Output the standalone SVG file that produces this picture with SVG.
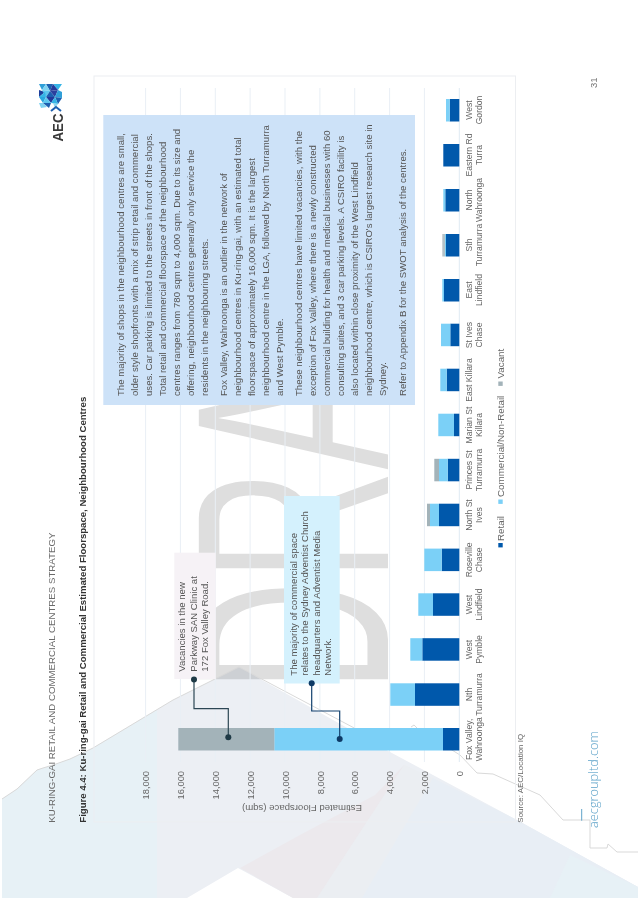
<svg xmlns="http://www.w3.org/2000/svg" width="638" height="900" viewBox="0 0 638 900">
<style>
text{font-family:"Liberation Sans",Arial,sans-serif}
.p{font-size:9.6px;fill:#555}
.t{font-size:9.3px;fill:#666;text-anchor:end}
.c{font-size:8.6px;fill:#666;text-anchor:middle}
.l{font-size:9.8px;fill:#666}
.g{stroke:#e9eff5;stroke-width:1;fill:none}
.s{stroke:#d9d9d9;stroke-width:1;fill:none}
.r{fill:#0058ab}.m{fill:#7bd0f7}.v{fill:#a3b3b9}
.n{font-size:9.55px;fill:#555}
</style>
<rect width="638" height="900" fill="#fff"/>
<g id="background">
<text transform="translate(388 692) rotate(-90) scale(0.56 1)" font-size="275" fill="#dedede">DRA</text>
<g style="mix-blend-mode:multiply">
<polygon points="2,799 17,789 37,770 43,768 53,765 70,759 93,748 173,700 239,667 390,752 517,820 638,887 638,898 293,898 238,868 187,898 2,898" fill="#eceff4"/>
</g>
<polygon points="2,799 17,789 37,770 43,768 53,765 70,759 93,748 157,710 157,898 2,898" fill="#e7f1f6"/>
<polygon points="240,868 300,835 375,795 404,765 418,772 362,898 293,898" fill="#ece9ed"/>
<polygon points="404,765 433,778 362,898 317,898" fill="#ebeef2"/>
<polygon points="433,778 517,820 638,887 638,898 362,898" fill="#e8eef5"/>
<polygon points="570,855 638,887 638,898 550,898" fill="#e7f1f6"/>
<polyline class="s" points="2,799 17,789 37,770 43,768 53,765 70,759 93,748 173,700 239,667 358,730"/>
<polyline class="s" points="411,727 414,725 418,729 460,755 477,773 493,774 540,795 563,820 590,820 590,848 607,848 608,844 617,852 638,852"/>
</g>
<g id="header">
<text transform="translate(54.5 822.7) rotate(-90)" font-size="9.7" fill="#6b6b6b">KU-RING-GAI RETAIL AND COMMERCIAL CENTRES STRATEGY</text>
<text transform="translate(85.5 822.7) rotate(-90)" font-size="9.6" font-weight="bold" fill="#333">Figure 4.4: Ku-ring-gai Retail and Commercial Estimated Floorspace, Neighbourhood Centres</text>
</g>
<g id="logo">
<polygon points="39,84 46,84 42,90" fill="#2f9fd8"/><polygon points="46,84 53,84 50,91" fill="#1c5fb0"/><polygon points="53,84 62,84 58,90" fill="#35b4e6"/><polygon points="42,90 46,84 50,91" fill="#7fd3f2"/><polygon points="50,91 53,84 58,90" fill="#23399a"/>
<polygon points="39,90 45,92 39,97" fill="#1d3f9c"/><polygon points="42,90 50,91 46,97" fill="#5cc6ee"/><polygon points="50,91 58,90 55,97" fill="#2a3f9e"/><polygon points="58,90 62,92 62,98 55,97" fill="#2f9fd8"/><polygon points="45,92 46,97 39,97" fill="#35b4e6"/><polygon points="50,91 46,97 55,97" fill="#1c5fb0"/>
<polygon points="39,97 46,97 43,103" fill="#29a6de"/><polygon points="46,97 55,97 51,103" fill="#23399a"/><polygon points="55,97 62,98 58,104" fill="#1c5fb0"/><polygon points="46,97 43,103 51,103" fill="#5cc6ee"/><polygon points="55,97 51,103 58,104" fill="#35b4e6"/>
<polygon points="39,103 43,103 47,107 41,108" fill="#7fd3f2"/><polygon points="43,103 51,103 49,108" fill="#1c5fb0"/><polygon points="53,103 58,104 55,108" fill="#8fd6f0"/>
<polyline points="51,111 56,107 61,111" fill="none" stroke="#1d5fb0" stroke-width="2"/>
<text transform="translate(63 141.5) rotate(-90)" font-size="15" font-weight="bold" fill="#3a3a3a" textLength="28" lengthAdjust="spacingAndGlyphs">AEC</text>
</g>
<g id="chart-frame">
<rect x="94" y="76" width="421.5" height="746" fill="none" stroke="#eceef1"/>
<g class="g">
<line x1="145.6" y1="88" x2="145.6" y2="762"/><line x1="180.4" y1="88" x2="180.4" y2="762"/><line x1="215.3" y1="88" x2="215.3" y2="762"/><line x1="250.1" y1="88" x2="250.1" y2="762"/><line x1="285" y1="88" x2="285" y2="762"/><line x1="319.9" y1="88" x2="319.9" y2="762"/><line x1="354.7" y1="88" x2="354.7" y2="762"/><line x1="389.6" y1="88" x2="389.6" y2="762"/><line x1="424.4" y1="88" x2="424.4" y2="762"/><line x1="459.3" y1="88" x2="459.3" y2="762" stroke="#dfeaf3"/>
</g>
</g>
<g id="axis-labels">
<text class="t" transform="translate(149 771) rotate(-90)">18,000</text>
<text class="t" transform="translate(184 771) rotate(-90)">16,000</text>
<text class="t" transform="translate(219 771) rotate(-90)">14,000</text>
<text class="t" transform="translate(253.5 771) rotate(-90)">12,000</text>
<text class="t" transform="translate(288.5 771) rotate(-90)">10,000</text>
<text class="t" transform="translate(323.5 771) rotate(-90)">8,000</text>
<text class="t" transform="translate(358 771) rotate(-90)">6,000</text>
<text class="t" transform="translate(393 771) rotate(-90)">4,000</text>
<text class="t" transform="translate(428 771) rotate(-90)">2,000</text>
<text class="t" transform="translate(462.5 771) rotate(-90)">0</text>
<text transform="translate(362 804.5) rotate(180)" font-size="9.6" fill="#666">Estimated Floorspace (sqm)</text>
</g>
<g id="bars">
<g id="bar-fox-valley"><rect class="r" x="443" y="728" width="16.3" height="22.5"/><rect class="m" x="274.3" y="728" width="168.7" height="22.5"/><rect class="v" x="178.3" y="728" width="96" height="22.5"/></g>
<g id="bar-nth-turramurra"><rect class="r" x="415" y="683.3" width="44.3" height="22.5"/><rect class="m" x="390.3" y="683.3" width="24.7" height="22.5"/></g>
<g id="bar-west-pymble"><rect class="r" x="422.3" y="638.2" width="37" height="22.5"/><rect class="m" x="410.3" y="638.2" width="12" height="22.5"/></g>
<g id="bar-west-lindfield"><rect class="r" x="433" y="593.3" width="26.3" height="22.5"/><rect class="m" x="418.3" y="593.3" width="14.7" height="22.5"/></g>
<g id="bar-roseville-chase"><rect class="r" x="441.7" y="548.6" width="17.6" height="22.5"/><rect class="m" x="424.3" y="548.6" width="17.4" height="22.5"/></g>
<g id="bar-north-st-ives"><rect class="r" x="439" y="503.7" width="20.3" height="22.5"/><rect class="m" x="430" y="503.7" width="9" height="22.5"/><rect class="v" x="427" y="503.7" width="3" height="22.5"/></g>
<g id="bar-princes-st"><rect class="r" x="447.7" y="458.8" width="11.6" height="22.5"/><rect class="m" x="439" y="458.8" width="8.7" height="22.5"/><rect class="v" x="434.3" y="458.8" width="4.7" height="22.5"/></g>
<g id="bar-marian-st"><rect class="r" x="454" y="413.7" width="5.3" height="22.5"/><rect class="m" x="438.3" y="413.7" width="15.7" height="22.5"/></g>
<g id="bar-east-killara"><rect class="r" x="446.7" y="368.7" width="12.6" height="22.5"/><rect class="m" x="440.3" y="368.7" width="6.4" height="22.5"/></g>
<g id="bar-st-ives-chase"><rect class="r" x="450.3" y="323.7" width="9" height="22.5"/><rect class="m" x="441" y="323.7" width="9.3" height="22.5"/></g>
<g id="bar-east-lindfield"><rect class="r" x="444" y="279" width="15.3" height="22.5"/><rect class="m" x="442.3" y="279" width="1.7" height="22.5"/></g>
<g id="bar-sth-turramurra"><rect class="r" x="446" y="234" width="13.3" height="22.5"/><rect class="m" x="445" y="234" width="1" height="22.5"/><rect class="v" x="442.3" y="234" width="2.7" height="22.5" opacity=".8"/></g>
<g id="bar-north-wahroonga"><rect class="r" x="445.3" y="189" width="14" height="22.5"/><rect class="m" x="443.3" y="189" width="2" height="22.5"/></g>
<g id="bar-eastern-rd-turra"><rect class="r" x="443.3" y="144" width="16" height="22.5"/></g>
<g id="bar-west-gordon"><rect class="r" x="449.7" y="99" width="9.6" height="22.5"/><rect class="m" x="446" y="99" width="3.7" height="22.5"/></g>
</g>
<g id="category-labels">
<text class="c" transform="translate(472 739.3) rotate(-90)">Fox Valley,</text><text class="c" transform="translate(481.5 739.3) rotate(-90)">Wahroonga</text>
<text class="c" transform="translate(472 694.5) rotate(-90)">Nth</text><text class="c" transform="translate(481.5 694.5) rotate(-90)">Turramurra</text>
<text class="c" transform="translate(472 649.5) rotate(-90)">West</text><text class="c" transform="translate(481.5 649.5) rotate(-90)">Pymble</text>
<text class="c" transform="translate(472 604.5) rotate(-90)">West</text><text class="c" transform="translate(481.5 604.5) rotate(-90)">Lindfield</text>
<text class="c" transform="translate(472 559.8) rotate(-90)">Roseville</text><text class="c" transform="translate(481.5 559.8) rotate(-90)">Chase</text>
<text class="c" transform="translate(472 515) rotate(-90)">North St</text><text class="c" transform="translate(481.5 515) rotate(-90)">Ives</text>
<text class="c" transform="translate(472 470) rotate(-90)">Princes St</text><text class="c" transform="translate(481.5 470) rotate(-90)">Turramurra</text>
<text class="c" transform="translate(472 425) rotate(-90)">Marian St</text><text class="c" transform="translate(481.5 425) rotate(-90)">Killara</text>
<text class="c" transform="translate(472 380) rotate(-90)">East Killara</text>
<text class="c" transform="translate(472 335) rotate(-90)">St Ives</text><text class="c" transform="translate(481.5 335) rotate(-90)">Chase</text>
<text class="c" transform="translate(472 290) rotate(-90)">East</text><text class="c" transform="translate(481.5 290) rotate(-90)">Lindfield</text>
<text class="c" transform="translate(472 245) rotate(-90)">Sth</text><text class="c" transform="translate(481.5 245) rotate(-90)">Turramurra</text>
<text class="c" transform="translate(472 200) rotate(-90)">North</text><text class="c" transform="translate(481.5 200) rotate(-90)">Wahroonga</text>
<text class="c" transform="translate(472 155) rotate(-90)">Eastern Rd</text><text class="c" transform="translate(481.5 155) rotate(-90)">Turra</text>
<text class="c" transform="translate(472 110) rotate(-90)">West</text><text class="c" transform="translate(481.5 110) rotate(-90)">Gordon</text>
</g>
<g id="legend">
<rect class="r" x="498.3" y="543" width="4.4" height="4.4"/><text class="l" transform="translate(503.5 541) rotate(-90)">Retail</text>
<rect class="m" x="498.3" y="499.5" width="4.4" height="4.4"/><text class="l" transform="translate(503.5 497) rotate(-90)">Commercial/Non-Retail</text>
<rect class="v" x="498.3" y="381.5" width="4.4" height="4.4"/><text class="l" transform="translate(503.5 378.5) rotate(-90)">Vacant</text>
</g>
<g id="text-panel">
<rect x="103.3" y="115" width="311.7" height="290" fill="#cde2f8"/>
<text class="p" transform="translate(123.5 396) rotate(-90)">The majority of shops in the neighbourhood centres are small,</text>
<text class="p" transform="translate(137.5 396) rotate(-90)">older style shopfronts with a mix of strip retail and commercial</text>
<text class="p" transform="translate(151.5 396) rotate(-90)">uses. Car parking is limited to the streets in front of the shops.</text>
<text class="p" transform="translate(165.5 396) rotate(-90)">Total retail and commercial floorspace of the neighbourhood</text>
<text class="p" transform="translate(179.5 396) rotate(-90)">centres ranges from 780 sqm to 4,000 sqm. Due to its size and</text>
<text class="p" transform="translate(193.5 396) rotate(-90)">offering, neighbourhood centres generally only service the</text>
<text class="p" transform="translate(207.5 396) rotate(-90)">residents in the neighbouring streets.</text>
<text class="p" transform="translate(226.7 396) rotate(-90)">Fox Valley, Wahroonga is an outlier in the network of</text>
<text class="p" transform="translate(240.7 396) rotate(-90)">neighbourhood centres in Ku-ring-gai, with an estimated total</text>
<text class="p" transform="translate(254.7 396) rotate(-90)">floorspace of approximately 16,000 sqm. It is the largest</text>
<text class="p" transform="translate(268.7 396) rotate(-90)">neighbourhood centre in the LGA, followed by North Turramurra</text>
<text class="p" transform="translate(282.7 396) rotate(-90)">and West Pymble.</text>
<text class="p" transform="translate(301.7 396) rotate(-90)">These neighbourhood centres have limited vacancies, with the</text>
<text class="p" transform="translate(315.7 396) rotate(-90)">exception of Fox Valley, where there is a newly constructed</text>
<text class="p" transform="translate(329.7 396) rotate(-90)">commercial building for health and medical businesses with 60</text>
<text class="p" transform="translate(343.7 396) rotate(-90)">consulting suites, and 3 car parking levels. A CSIRO facility is</text>
<text class="p" transform="translate(357.7 396) rotate(-90)">also located within close proximity of the West Lindfield</text>
<text class="p" transform="translate(371.7 396) rotate(-90)">neighbourhood centre, which is CSIRO's largest research site in</text>
<text class="p" transform="translate(385.7 396) rotate(-90)">Sydney.</text>
<text class="p" transform="translate(405.5 396) rotate(-90)">Refer to Appendix B for the SWOT analysis of the centres.</text>
</g>
<g id="callout-vacancies">
<rect x="174.3" y="552.7" width="41.4" height="126.3" fill="#f6f2f6"/>
<text class="n" transform="translate(185 671.7) rotate(-90)">Vacancies in the new</text>
<text class="n" transform="translate(196.7 671.7) rotate(-90)">Parkway SAN Clinic at</text>
<text class="n" transform="translate(208.4 671.7) rotate(-90)">172 Fox Valley Road.</text>
</g>
<g id="callout-commercial">
<rect x="284" y="496" width="55.7" height="187.5" fill="#d4f1fd"/>
<text class="n" transform="translate(296.7 675.7) rotate(-90)">The majority of commercial space</text>
<text class="n" transform="translate(308.2 675.7) rotate(-90)">relates to the Sydney Adventist Church</text>
<text class="n" transform="translate(319.7 675.7) rotate(-90)">headquarters and Adventist Media</text>
<text class="n" transform="translate(331.2 675.7) rotate(-90)">Network.</text>
</g>
<g id="connectors" fill="none" stroke-width="1.2">
<polyline points="194,679.5 194,708.7 228.3,708.7 228.3,737.3" stroke="#2c4654"/>
<circle cx="194" cy="679.5" r="3" fill="#1f3a46"/><circle cx="228.3" cy="737.3" r="3" fill="#1f3a46"/>
<polyline points="311.7,683.3 311.7,711 339.7,711 339.7,739" stroke="#12406e"/>
<circle cx="311.7" cy="683.3" r="3" fill="#0d3a66"/><circle cx="339.7" cy="739" r="3" fill="#0d3a66"/>
</g>
<g id="footer">
<text transform="translate(522.7 822.7) rotate(-90)" font-size="8" fill="#666">Source: AEC/Location IQ</text>
<line x1="581.7" y1="809" x2="581.7" y2="820.7" stroke="#5fa3c9"/>
<text transform="translate(597.5 828) rotate(-90)" font-size="12.8" fill="#5fa3c9" style="font-family:'Open Sans',sans-serif;font-weight:300">aecgroupltd.com</text>
<text transform="translate(597 88) rotate(-90)" font-size="9.5" fill="#777">31</text>
</g>
</svg>
